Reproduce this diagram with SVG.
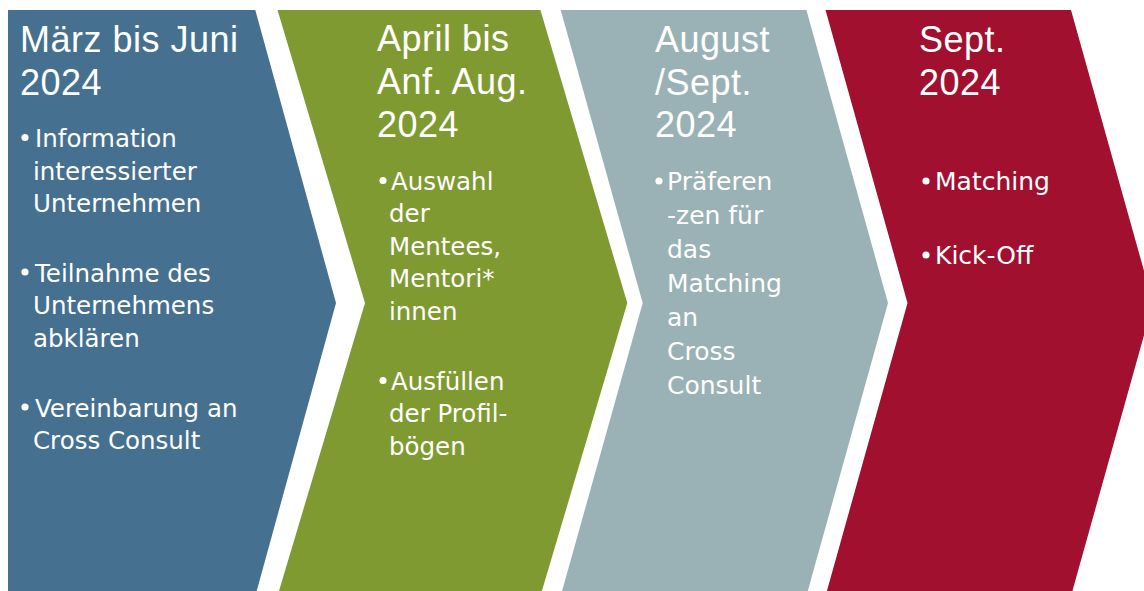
<svg xmlns="http://www.w3.org/2000/svg" width="1144" height="591" viewBox="0 0 1144 591">
<style>
.t{font-family:"Liberation Sans",Arial,sans-serif;font-size:36px;fill:#ffffff;letter-spacing:0.5px}
.b{font-family:"DejaVu Sans","Liberation Sans",sans-serif;font-size:24.5px;fill:#ffffff}
.b2{font-family:"DejaVu Sans","Liberation Sans",sans-serif;font-size:25px;fill:#ffffff}
.d{fill:#ffffff}
</style>
<rect x="0" y="0" width="1144" height="591" fill="#ffffff"/>
<g id="step1">
<polygon points="8,10 255.3,10 336,303 255.3,596 8,596" fill="#45708F"/>
<text class="t" x="20" y="52">März bis Juni</text>
<text class="t" x="20" y="95">2024</text>
<circle class="d" cx="25" cy="137.5" r="3.6"/>
<text class="b" x="35" y="147">Information</text>
<text class="b" x="33" y="179.5">interessierter</text>
<text class="b" x="33" y="212">Unternehmen</text>
<circle class="d" cx="25" cy="272" r="3.6"/>
<text class="b" x="35" y="281.5">Teilnahme des</text>
<text class="b" x="33" y="314">Unternehmens</text>
<text class="b" x="33" y="346.5">abklären</text>
<circle class="d" cx="25" cy="407" r="3.6"/>
<text class="b" x="35" y="416.5">Vereinbarung an</text>
<text class="b" x="33" y="449">Cross Consult</text>
</g>
<g id="step2">
<polygon points="277.5,10 540.4,10 627.3,303 540.4,596 277.5,596 365,303" fill="#7F9A31"/>
<text class="t" x="377" y="51">April bis</text>
<text class="t" x="377" y="94">Anf. Aug.</text>
<text class="t" x="377" y="137">2024</text>
<circle class="d" cx="383" cy="180.5" r="3.6"/>
<text class="b" x="391" y="189.5">Auswahl</text>
<text class="b" x="389" y="222">der</text>
<text class="b" x="389" y="254.5">Mentees,</text>
<text class="b" x="389" y="287">Mentori*</text>
<text class="b" x="389" y="319.5">innen</text>
<circle class="d" cx="383" cy="380.5" r="3.6"/>
<text class="b" x="391" y="389.5">Ausfüllen</text>
<text class="b" x="389" y="422">der Profil-</text>
<text class="b" x="389" y="454.5">bögen</text>
</g>
<g id="step3">
<polygon points="560.7,10 806.4,10 888,303 806.4,596 560.7,596 642.7,303" fill="#9AB2B5"/>
<text class="t" x="655" y="52">August</text>
<text class="t" x="655" y="95">/Sept.</text>
<text class="t" x="655" y="137">2024</text>
<circle class="d" cx="659" cy="181" r="3.6"/>
<text class="b2" x="667" y="190">Präferen</text>
<text class="b2" x="667" y="224">-zen für</text>
<text class="b2" x="667" y="258">das</text>
<text class="b2" x="667" y="292">Matching</text>
<text class="b2" x="667" y="326">an</text>
<text class="b2" x="667" y="360">Cross</text>
<text class="b2" x="667" y="394">Consult</text>
</g>
<g id="step4">
<polygon points="825.5,10 1071,10 1153,303 1071,596 825.5,596 907.5,303" fill="#A1102F"/>
<text class="t" x="919" y="52">Sept.</text>
<text class="t" x="919" y="95">2024</text>
<circle class="d" cx="926" cy="181" r="3.6"/>
<text class="b2" x="935" y="190">Matching</text>
<circle class="d" cx="926" cy="255" r="3.6"/>
<text class="b2" x="935" y="264">Kick-Off</text>
</g>
<g id="connectors"/>
</svg>
